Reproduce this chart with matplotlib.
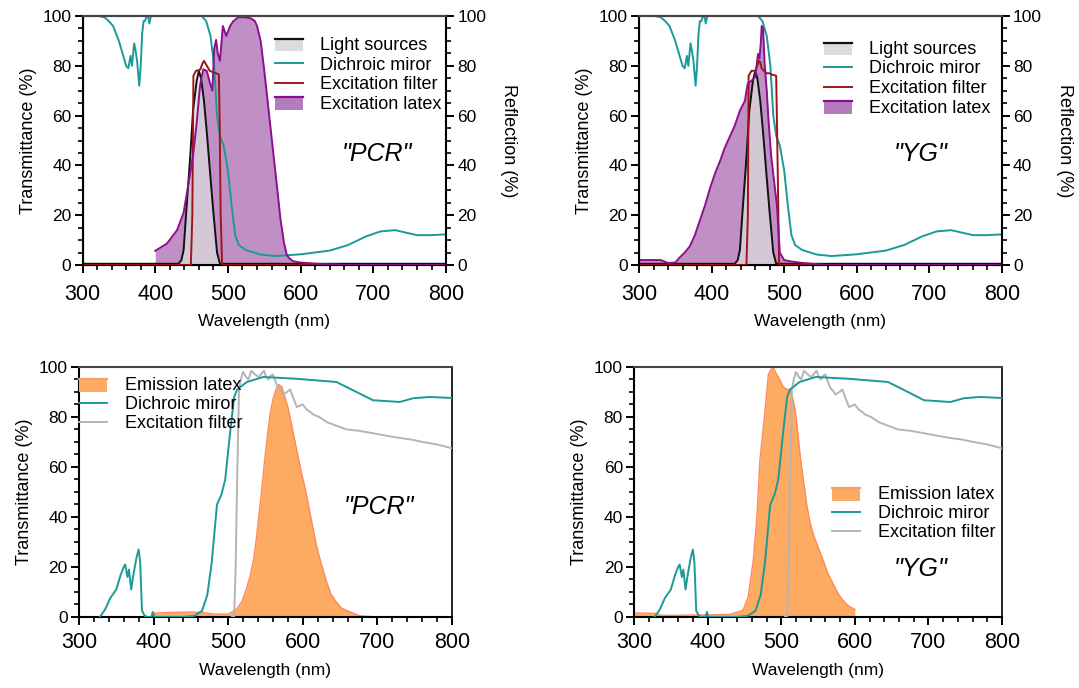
import matplotlib
matplotlib.use("Agg")
import matplotlib.pyplot as plt
import numpy as np
from matplotlib.legend_handler import HandlerBase
from matplotlib.patches import Rectangle
from matplotlib.lines import Line2D
from matplotlib.ticker import MultipleLocator

plt.rcParams['font.family'] = ['Liberation Sans', 'DejaVu Sans']

# ---------------- data ----------------
# Light sources (same in both top panels)
light_x = [300, 432, 436, 439, 443, 448, 452, 457, 460, 463, 467, 471, 476, 480, 485, 489, 800]
light_y = [0.5, 0.5, 2, 6, 23, 43, 62, 74, 78, 75, 66, 53, 35, 21, 5, 0.5, 0.5]

# Dichroic mirror, reflection (top panels)
dic_top_x = [322, 330, 336, 342, 350, 356, 360, 363, 366, 368, 370, 371, 373, 375, 378, 380, 382,
             384, 386, 388, 390, 392, 394, 396, 400, 440, 464, 470, 476, 481, 485, 489, 494, 500,
             505, 510, 515, 525, 545, 565, 600, 640, 665, 690, 710, 730, 745, 760, 780, 800]
dic_top_y = [100, 99.5, 98, 96, 90, 84, 80, 79, 84, 80, 86, 89, 86, 82, 72, 80, 93,
             98, 98, 100, 100, 97, 100, 100, 100, 100, 100, 98, 92, 80, 60, 52, 48, 38,
             24, 12, 8, 6, 4.2, 3.6, 4.3, 5.8, 8, 11.5, 13.5, 14, 13, 12, 12, 12.3]

# Excitation filters
exf_pcr_x = [300, 449, 451, 452.5, 456, 462, 465, 467, 469, 471, 475, 478, 484, 487.5, 488.5, 490, 492, 800]
exf_pcr_y = [0, 0, 20, 76, 78, 78.5, 81, 82, 81, 80, 78, 77.6, 77, 76.5, 60, 20, 0, 0]
exf_yg_x = [300, 448, 450, 451, 455, 460, 463, 465, 467, 469, 472, 476, 480, 483, 489, 491, 493, 800]
exf_yg_y = [0, 0, 20, 76, 78, 78, 80, 82, 81.5, 79, 78, 77, 77, 76.5, 76, 40, 0, 0]

# Excitation latex
exl_pcr_x = [400, 416, 430, 439, 444.5, 452, 457, 461.6, 466, 470.8, 475.4, 478.6, 481, 483.7, 486,
             489, 493, 497.7, 503, 507, 514, 524, 532, 537, 540, 545, 550, 556, 562, 568, 572,
             577, 581, 585, 590, 600, 620, 650, 660, 800]
exl_pcr_y = [5.7, 8.6, 14, 21, 30.5, 44, 57, 72, 78.6, 78, 73, 70, 86.7, 90.4, 85,
             82, 96, 92, 96, 97.8, 99.5, 99.5, 99, 98, 96, 90, 78, 62, 46, 30, 19,
             9, 4, 2.5, 1.5, 1, 0.5, 0.2, 0, 0]
exl_yg_x = [300, 330, 340, 350, 356, 363, 370, 377, 384, 391, 398, 405, 412, 418, 425, 432, 439,
            446, 448, 450, 455, 460, 462, 464, 466, 468, 469, 471, 473, 476, 478, 482, 486, 490,
            494, 500, 508, 526, 545, 560, 800]
exl_yg_y = [2, 2, 0.8, 1, 3, 5, 7.5, 12, 18, 24, 31, 37, 42, 47, 51.5, 56, 62,
            66, 70, 73, 74, 75.5, 80, 84.8, 83, 90, 96, 95, 81, 70, 60, 44, 34, 24,
            5, 2, 1.5, 0.8, 0.3, 0, 0]

# Dichroic mirror, transmittance (bottom panels)
dic_bot_x = [328, 335, 342, 350, 356, 360, 362, 365, 367, 370, 373, 377, 380, 382, 384.5, 388, 392,
             397, 399, 401, 403, 440, 455, 465, 472, 478, 485, 491, 496, 503, 508, 512, 525, 547,
             591, 645, 672, 694, 730, 748, 770, 800]
dic_bot_y = [0, 3, 7.6, 11, 17, 20, 21, 16, 19, 11, 17, 23.6, 27, 22, 2.5, 0.5, 0,
             0, 2, 0, 0, 0, 0.5, 2.5, 8.8, 22, 45, 49, 55, 75, 88, 91, 94, 96,
             95.3, 94, 90, 86.7, 86, 87.5, 88, 87.6]

# Emission filter (grey, labelled "Excitation filter")
emf_x = [505, 508, 510, 512, 514.5, 517, 520, 524, 527, 531, 536, 541, 545, 548, 551, 554, 557,
         560, 566, 574, 579, 583, 588, 592, 600, 605, 610, 614, 622, 632, 645, 659, 675, 694,
         712, 730, 745, 761, 780, 800]
emf_y = [0, 0, 20, 55, 91, 95, 98, 96, 95, 98.5, 97, 96, 97.5, 98.5, 96, 95, 96.5,
         97, 92, 89, 90, 91, 87, 84, 85, 83, 82, 81, 80, 78, 76.5, 75, 74.5, 73.5,
         72.5, 71.6, 71, 70, 69, 67.5]

# Emission latex
eml_pcr_x = [398, 420, 450, 466, 480, 500, 511, 518, 524, 529, 534, 538, 542, 546, 549, 552, 556,
             560, 564, 568, 572, 576, 580, 585, 591, 598, 605, 612, 618, 625, 632, 638, 645,
             652, 659, 668, 676, 690, 700]
eml_pcr_y = [1.5, 1.8, 2, 1.8, 1.2, 1.2, 3, 6, 10.8, 16, 23, 32, 43, 54, 63, 71, 81,
             87, 91, 93, 92, 88, 84, 77, 68, 58, 49, 38, 29, 21, 14, 9, 6,
             3.5, 2.6, 1.5, 0.5, 0.2, 0]
eml_yg_x = [300, 327, 339, 385, 430, 448, 455, 462, 467, 471, 475, 478, 482.5, 486, 489, 492, 496,
            503, 508, 512, 516, 519, 522, 525.5, 530, 534.6, 539, 543.6, 550, 557, 564, 571,
            578, 584, 589, 593.5, 598, 600]
eml_yg_y = [1.6, 1.5, 0.6, 0.8, 1, 2.7, 8, 22.7, 40, 62.7, 74, 82.7, 97, 99, 100, 98, 96,
            92, 91, 91, 87, 82.7, 75, 65, 55, 45, 38, 33, 28, 22.7, 17, 13,
            9, 6.7, 5, 4, 3.4, 3]

labels_top = ["Light sources", "Dichroic miror", "Excitation filter", "Excitation latex"]
labels_bot = ["Emission latex", "Dichroic miror", "Excitation filter"]

# ---------------- styles ----------------
TEAL = "#1a9a98"
DRED = "#a01414"
PURP_EDGE = "#8e0f8e"
PURP_FACE = "#b47cbc"
GREY_FACE = "#dcdcdc"
OR_FACE = "#fdab62"
OR_EDGE = "#ff8a5c"
GREYL = "#b4b4b4"


class FillHandler(HandlerBase):
    def __init__(self, face, edge, alpha=1.0):
        super().__init__()
        self.face, self.edge, self.alpha = face, edge, alpha

    def create_artists(self, legend, orig_handle, xdescent, ydescent, width, height, fontsize, trans):
        r = Rectangle((-xdescent, -ydescent - 0.1 * height), width, height * 1.0,
                      facecolor=self.face, edgecolor='none', alpha=self.alpha, transform=trans)
        l = Line2D([-xdescent, -xdescent + width], [-ydescent + 0.9 * height] * 2,
                   color=self.edge, lw=1.6, transform=trans)
        return [r, l]


fig = plt.figure(figsize=(10.79, 6.88), dpi=100)


def style_axes(ax, right_axis, xpad, xlabpad):
    ax.set_xlim(300, 800)
    ax.set_ylim(0, 100)
    ax.xaxis.set_major_locator(MultipleLocator(100))
    ax.xaxis.set_minor_locator(MultipleLocator(20))
    ax.yaxis.set_major_locator(MultipleLocator(20))
    ax.yaxis.set_minor_locator(MultipleLocator(5))
    ax.tick_params(axis='x', which='major', direction='out', length=6, width=1.4, labelsize=15.5, pad=xpad)
    ax.tick_params(axis='x', which='minor', direction='out', length=3.5, width=1.2)
    ax.tick_params(axis='y', which='major', direction='out', length=6, width=1.4, labelsize=12.5, pad=2)
    ax.tick_params(axis='y', which='minor', direction='out', length=3.5, width=1.2)
    for s in ['left', 'bottom']:
        ax.spines[s].set_linewidth(1.5)
        ax.spines[s].set_color('black')
    ax.spines['top'].set_color('#444444')
    ax.spines['top'].set_linewidth(1.5)
    ax.spines['right'].set_color('black')
    ax.spines['right'].set_linewidth(1.2)
    ax.set_xlabel("Wavelength (nm)", fontsize=12.5, labelpad=xlabpad)
    ax.set_ylabel("Transmittance (%)", fontsize=13, labelpad=4)
    if right_axis:
        ax2 = ax.twinx()
        ax2.set_ylim(0, 100)
        ax2.yaxis.set_major_locator(MultipleLocator(20))
        ax2.yaxis.set_minor_locator(MultipleLocator(5))
        ax2.tick_params(axis='y', which='major', direction='out', length=6, width=1.4, labelsize=12.5, pad=2)
        ax2.tick_params(axis='y', which='minor', direction='out', length=3.5, width=1.2)
        ax2.spines['right'].set_linewidth(1.5)
        ax2.spines['top'].set_color('#444444')
        ax2.spines['top'].set_linewidth(1.5)
        ax2.set_ylabel("Reflection (%)", fontsize=13, rotation=270, labelpad=22)
        return ax2
    return None


def top_panel(rect, exl_x, exl_y, exf_x, exf_y, name, leg_anchor, text_xy):
    ax = fig.add_axes(rect)
    style_axes(ax, True, 8, 6)
    ax.fill_between(exl_x, exl_y, color=PURP_FACE, alpha=0.85, lw=0, zorder=1)
    ax.plot(exl_x, exl_y, color=PURP_EDGE, lw=1.4, zorder=5)
    ax.fill_between(light_x, light_y, color=GREY_FACE, alpha=0.75, lw=0, zorder=2)
    ax.plot(light_x, light_y, color='#111111', lw=1.4, zorder=4)
    ax.plot(dic_top_x, dic_top_y, color=TEAL, lw=1.4, zorder=3)
    ax.plot(exf_x, exf_y, color=DRED, lw=1.4, zorder=4)
    h_l = Line2D([], [], color='k')
    h_d = Line2D([], [], color=TEAL, lw=1.4)
    h_f = Line2D([], [], color=DRED, lw=1.4)
    h_p = Line2D([], [], color=PURP_EDGE)
    ax.legend([h_l, h_d, h_f, h_p], labels_top,
              handler_map={h_l: FillHandler(GREY_FACE, '#111111'),
                           h_p: FillHandler(PURP_FACE, PURP_EDGE)},
              loc='upper left', bbox_to_anchor=leg_anchor, frameon=False, fontsize=13,
              borderpad=0, borderaxespad=0, handlelength=1.55, handletextpad=0.95,
              labelspacing=0.14)
    ax.text(text_xy[0], text_xy[1], name, transform=ax.transAxes, fontsize=18,
            style='italic', ha='center', va='center')
    return ax


def bot_panel(rect, eml_x, eml_y, name, leg_anchor, text_xy):
    ax = fig.add_axes(rect)
    style_axes(ax, False, 5, 7)
    ax.tick_params(axis='y', which='both', right=False)
    ax.fill_between(eml_x, eml_y, color=OR_FACE, lw=0, zorder=1)
    ax.plot(eml_x, eml_y, color=OR_EDGE, lw=1.0, zorder=2)
    ax.plot(emf_x, emf_y, color=GREYL, lw=1.4, zorder=3)
    ax.plot(dic_bot_x, dic_bot_y, color=TEAL, lw=1.4, zorder=4)
    h_o = Line2D([], [], color=OR_EDGE)
    h_d = Line2D([], [], color=TEAL, lw=1.4)
    h_g = Line2D([], [], color=GREYL, lw=1.4)
    ax.legend([h_o, h_d, h_g], labels_bot,
              handler_map={h_o: FillHandler(OR_FACE, '#fd9e62')},
              loc='upper left', bbox_to_anchor=leg_anchor, frameon=False, fontsize=13,
              borderpad=0, borderaxespad=0, handlelength=1.55, handletextpad=1.0,
              labelspacing=0.1)
    ax.text(text_xy[0], text_xy[1], name, transform=ax.transAxes, fontsize=18,
            style='italic', ha='center', va='center')
    return ax


top_panel([0.0765, 0.6148, 0.3369, 0.3619], exl_pcr_x, exl_pcr_y, exf_pcr_x, exf_pcr_y,
          '"PCR"', (0.53, 0.915), (0.81, 0.445))
top_panel([0.5922, 0.6148, 0.3364, 0.3619], exl_yg_x, exl_yg_y, exf_yg_x, exf_yg_y,
          '"YG"', (0.51, 0.90), (0.775, 0.445))
bot_panel([0.0732, 0.1032, 0.3457, 0.3634], eml_pcr_x, eml_pcr_y,
          '"PCR"', (0.0, 0.958), (0.805, 0.44))
bot_panel([0.5876, 0.1032, 0.3411, 0.3634], eml_yg_x, eml_yg_y,
          '"YG"', (0.538, 0.522), (0.78, 0.19))

fig.savefig("out.png", dpi=100)
